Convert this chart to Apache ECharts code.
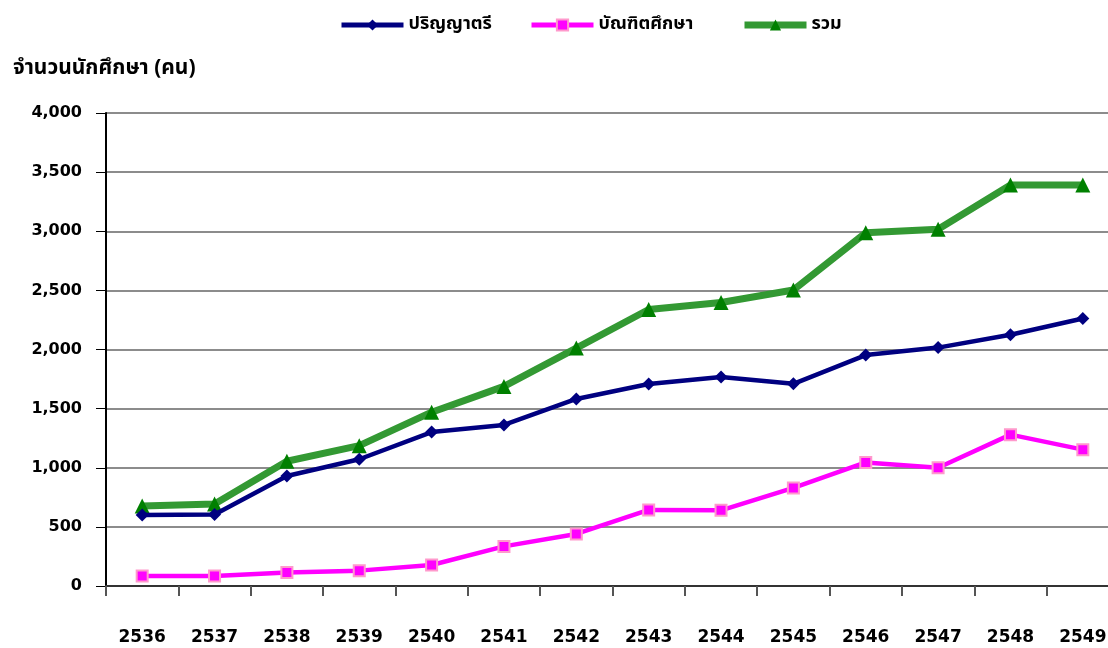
<!DOCTYPE html>
<html>
<head>
<meta charset="utf-8">
<script src="https://cdn.jsdelivr.net/npm/echarts@6/dist/echarts.min.js"></script>
<style>
html,body{margin:0;padding:0;background:#fff;overflow:hidden;}
#chart{width:1130px;height:648px;}
</style>
</head>
<body>
<div id="chart"></div>
<script>
const categories = ['2536','2537','2538','2539','2540','2541','2542','2543','2544','2545','2546','2547','2548','2549'];
const bachelor = [600, 605, 930, 1072, 1302, 1362, 1582, 1708, 1767, 1710, 1953, 2016, 2125, 2262];
const graduate = [85, 85, 115, 130, 178, 335, 440, 643, 640, 829, 1045, 1000, 1280, 1153];
const total = [677, 693, 1055, 1187, 1470, 1688, 2012, 2338, 2398, 2503, 2988, 3017, 3391, 3391];
const seriesNames = ['ปริญญาตรี', 'บัณฑิตศึกษา', 'รวม'];
const yTitle = 'จำนวนนักศึกษา (คน)';

const thaiFont = '"Noto Sans Thai", "Noto Serif Thai", "Tlwg Typo", "Loma", "Garuda", "Norasi", "DejaVu Sans", sans-serif';
const chart = echarts.init(document.getElementById('chart'));
const legendText = {fontFamily: thaiFont, fontWeight: 'bold', fontSize: 18, color: '#000'};
const legendBase = {top: 11, itemWidth: 62, itemHeight: 14, itemGap: 5, textStyle: legendText};
chart.setOption({
  animation: false,
  backgroundColor: '#fff',
  title: {
    text: yTitle, left: 8, top: 54,
    textStyle: {fontFamily: thaiFont, fontWeight: 'bold', fontSize: 21, color: '#000'}
  },
  legend: [
    Object.assign({data: [seriesNames[0]], left: 334, lineStyle: {width: 5}}, legendBase),
    Object.assign({data: [seriesNames[1]], left: 524, lineStyle: {width: 5}}, legendBase),
    Object.assign({data: [seriesNames[2]], left: 736, lineStyle: {width: 7}}, legendBase)
  ],
  grid: {left: 106, top: 113, width: 1013, height: 473, containLabel: false},
  xAxis: {
    type: 'category',
    data: categories,
    boundaryGap: true,
    axisLine: {show: true, lineStyle: {color: '#333', width: 2}},
    axisTick: {show: true, inside: false, length: 10, lineStyle: {color: '#555', width: 2}},
    axisLabel: {margin: 43, fontFamily: 'DejaVu Sans', fontWeight: 'bold', fontSize: 17, color: '#000'},
    splitLine: {show: false}
  },
  yAxis: {
    type: 'value',
    min: 0, max: 4000, interval: 500,
    axisLine: {show: true, lineStyle: {color: '#000', width: 2}},
    axisTick: {show: true, inside: false, length: 10, lineStyle: {color: '#000', width: 1}},
    axisLabel: {margin: 24, fontFamily: 'DejaVu Sans', fontWeight: 'bold', fontSize: 16, color: '#000',
      formatter: v => v.toLocaleString('en-US')},
    splitLine: {show: true, lineStyle: {color: '#666', width: 1.5}}
  },
  series: [
    {
      name: seriesNames[0], type: 'line', data: bachelor,
      symbol: 'diamond', symbolSize: 13,
      lineStyle: {color: '#000080', width: 4.5},
      itemStyle: {color: '#000080'},
      z: 3
    },
    {
      name: seriesNames[1], type: 'line', data: graduate,
      symbol: 'rect', symbolSize: 11,
      lineStyle: {color: '#ff00ff', width: 4.5},
      itemStyle: {color: '#ff00ff', borderColor: '#ff99cc', borderWidth: 2},
      z: 3
    },
    {
      name: seriesNames[2], type: 'line', data: total,
      symbol: 'triangle', symbolSize: 15,
      lineStyle: {color: '#339933', width: 7},
      itemStyle: {color: '#008000'},
      z: 2
    }
  ]
});
</script>
</body>
</html>
